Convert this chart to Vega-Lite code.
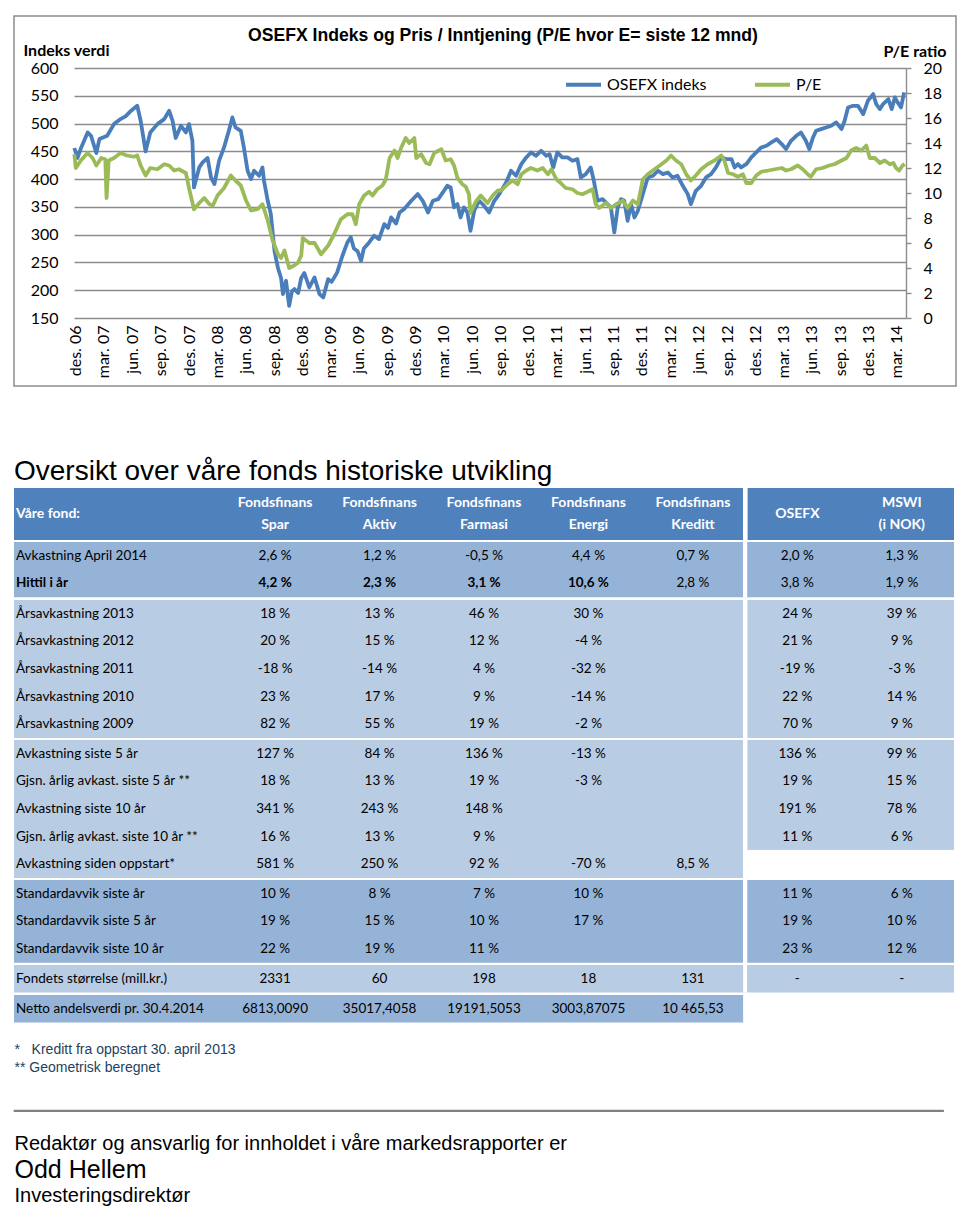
{
  "$schema": "https://vega.github.io/schema/vega-lite/v6.json",
  "background": "white",
  "padding": {"left": 13, "top": 15, "right": 0, "bottom": 0},
  "bounds": "flush",
  "spacing": 2,
  "config": {"view": {"stroke": null}, "axis": {"labelOverlap": false}},
  "datasets": {
    "osefx": [
      {"dato":"2006-11-26","verdi":456},{"dato":"2006-12-06","verdi":438},{"dato":"2006-12-17","verdi":455},{"dato":"2007-01-08","verdi":484},{"dato":"2007-01-19","verdi":478},{"dato":"2007-02-05","verdi":447},{"dato":"2007-02-15","verdi":472},{"dato":"2007-03-12","verdi":478},{"dato":"2007-04-03","verdi":499},{"dato":"2007-04-24","verdi":508},{"dato":"2007-05-10","verdi":513},{"dato":"2007-05-26","verdi":522},{"dato":"2007-06-17","verdi":532},{"dato":"2007-06-28","verdi":505},{"dato":"2007-07-14","verdi":450},{"dato":"2007-07-29","verdi":484},{"dato":"2007-08-21","verdi":499},{"dato":"2007-09-12","verdi":508},{"dato":"2007-09-28","verdi":523},{"dato":"2007-10-09","verdi":505},{"dato":"2007-10-19","verdi":474},{"dato":"2007-11-05","verdi":496},{"dato":"2007-11-21","verdi":484},{"dato":"2007-12-01","verdi":499},{"dato":"2007-12-12","verdi":469},{"dato":"2007-12-17","verdi":385},{"dato":"2008-01-03","verdi":421},{"dato":"2008-01-14","verdi":430},{"dato":"2008-01-30","verdi":438},{"dato":"2008-02-10","verdi":403},{"dato":"2008-02-21","verdi":391},{"dato":"2008-03-07","verdi":433},{"dato":"2008-03-23","verdi":457},{"dato":"2008-04-09","verdi":490},{"dato":"2008-04-19","verdi":511},{"dato":"2008-04-29","verdi":493},{"dato":"2008-05-16","verdi":487},{"dato":"2008-05-26","verdi":457},{"dato":"2008-06-07","verdi":415},{"dato":"2008-06-18","verdi":400},{"dato":"2008-06-28","verdi":415},{"dato":"2008-07-14","verdi":406},{"dato":"2008-07-25","verdi":421},{"dato":"2008-07-30","verdi":397},{"dato":"2008-08-11","verdi":361},{"dato":"2008-08-21","verdi":337},{"dato":"2008-09-02","verdi":270},{"dato":"2008-09-13","verdi":240},{"dato":"2008-09-23","verdi":222},{"dato":"2008-09-29","verdi":193},{"dato":"2008-10-09","verdi":217},{"dato":"2008-10-19","verdi":172},{"dato":"2008-10-28","verdi":198},{"dato":"2008-11-05","verdi":202},{"dato":"2008-11-17","verdi":195},{"dato":"2008-11-27","verdi":222},{"dato":"2008-12-07","verdi":231},{"dato":"2008-12-23","verdi":205},{"dato":"2009-01-09","verdi":223},{"dato":"2009-01-25","verdi":193},{"dato":"2009-02-06","verdi":187},{"dato":"2009-02-22","verdi":220},{"dato":"2009-03-05","verdi":215},{"dato":"2009-03-23","verdi":232},{"dato":"2009-04-09","verdi":262},{"dato":"2009-04-25","verdi":286},{"dato":"2009-05-06","verdi":295},{"dato":"2009-05-16","verdi":275},{"dato":"2009-05-28","verdi":270},{"dato":"2009-06-08","verdi":253},{"dato":"2009-06-17","verdi":275},{"dato":"2009-07-04","verdi":286},{"dato":"2009-07-20","verdi":298},{"dato":"2009-08-05","verdi":292},{"dato":"2009-08-22","verdi":319},{"dato":"2009-09-03","verdi":312},{"dato":"2009-09-13","verdi":331},{"dato":"2009-09-29","verdi":320},{"dato":"2009-10-10","verdi":340},{"dato":"2009-10-25","verdi":346},{"dato":"2009-11-17","verdi":361},{"dato":"2009-12-08","verdi":373},{"dato":"2009-12-24","verdi":361},{"dato":"2010-01-10","verdi":340},{"dato":"2010-01-26","verdi":361},{"dato":"2010-02-12","verdi":364},{"dato":"2010-02-27","verdi":376},{"dato":"2010-03-13","verdi":388},{"dato":"2010-03-24","verdi":385},{"dato":"2010-04-04","verdi":349},{"dato":"2010-04-15","verdi":355},{"dato":"2010-04-25","verdi":331},{"dato":"2010-05-06","verdi":349},{"dato":"2010-05-17","verdi":340},{"dato":"2010-05-27","verdi":307},{"dato":"2010-06-08","verdi":343},{"dato":"2010-06-24","verdi":361},{"dato":"2010-07-10","verdi":352},{"dato":"2010-07-26","verdi":340},{"dato":"2010-08-12","verdi":361},{"dato":"2010-08-28","verdi":373},{"dato":"2010-09-19","verdi":394},{"dato":"2010-10-05","verdi":415},{"dato":"2010-10-21","verdi":406},{"dato":"2010-11-07","verdi":427},{"dato":"2010-11-23","verdi":439},{"dato":"2010-12-08","verdi":448},{"dato":"2010-12-24","verdi":442},{"dato":"2011-01-10","verdi":451},{"dato":"2011-01-26","verdi":442},{"dato":"2011-02-06","verdi":445},{"dato":"2011-02-18","verdi":421},{"dato":"2011-03-03","verdi":448},{"dato":"2011-03-19","verdi":439},{"dato":"2011-04-05","verdi":439},{"dato":"2011-04-21","verdi":433},{"dato":"2011-05-07","verdi":436},{"dato":"2011-05-18","verdi":403},{"dato":"2011-06-03","verdi":409},{"dato":"2011-06-19","verdi":421},{"dato":"2011-06-29","verdi":397},{"dato":"2011-07-11","verdi":361},{"dato":"2011-07-27","verdi":364},{"dato":"2011-08-12","verdi":355},{"dato":"2011-08-23","verdi":349},{"dato":"2011-09-03","verdi":304},{"dato":"2011-09-14","verdi":349},{"dato":"2011-09-25","verdi":364},{"dato":"2011-10-05","verdi":361},{"dato":"2011-10-16","verdi":325},{"dato":"2011-10-27","verdi":355},{"dato":"2011-11-07","verdi":331},{"dato":"2011-11-18","verdi":343},{"dato":"2011-12-04","verdi":373},{"dato":"2011-12-20","verdi":403},{"dato":"2012-01-06","verdi":406},{"dato":"2012-01-22","verdi":415},{"dato":"2012-02-07","verdi":409},{"dato":"2012-02-23","verdi":412},{"dato":"2012-03-09","verdi":403},{"dato":"2012-03-25","verdi":406},{"dato":"2012-04-11","verdi":388},{"dato":"2012-04-27","verdi":373},{"dato":"2012-05-07","verdi":355},{"dato":"2012-05-23","verdi":379},{"dato":"2012-06-09","verdi":388},{"dato":"2012-06-25","verdi":403},{"dato":"2012-07-11","verdi":409},{"dato":"2012-07-27","verdi":421},{"dato":"2012-08-13","verdi":439},{"dato":"2012-08-29","verdi":436},{"dato":"2012-09-15","verdi":436},{"dato":"2012-09-25","verdi":421},{"dato":"2012-10-06","verdi":427},{"dato":"2012-10-16","verdi":421},{"dato":"2012-11-02","verdi":427},{"dato":"2012-11-18","verdi":439},{"dato":"2012-12-04","verdi":448},{"dato":"2012-12-20","verdi":457},{"dato":"2013-01-06","verdi":460},{"dato":"2013-01-22","verdi":466},{"dato":"2013-02-08","verdi":472},{"dato":"2013-02-24","verdi":463},{"dato":"2013-03-10","verdi":454},{"dato":"2013-03-26","verdi":469},{"dato":"2013-04-12","verdi":478},{"dato":"2013-04-27","verdi":484},{"dato":"2013-05-13","verdi":469},{"dato":"2013-05-24","verdi":454},{"dato":"2013-06-05","verdi":475},{"dato":"2013-06-15","verdi":487},{"dato":"2013-07-01","verdi":490},{"dato":"2013-07-17","verdi":493},{"dato":"2013-08-03","verdi":496},{"dato":"2013-08-19","verdi":502},{"dato":"2013-09-05","verdi":490},{"dato":"2013-09-15","verdi":505},{"dato":"2013-09-26","verdi":529},{"dato":"2013-10-12","verdi":532},{"dato":"2013-10-28","verdi":532},{"dato":"2013-11-14","verdi":517},{"dato":"2013-11-29","verdi":541},{"dato":"2013-12-16","verdi":553},{"dato":"2013-12-26","verdi":535},{"dato":"2014-01-07","verdi":526},{"dato":"2014-01-17","verdi":535},{"dato":"2014-02-03","verdi":544},{"dato":"2014-02-14","verdi":526},{"dato":"2014-02-24","verdi":547},{"dato":"2014-03-05","verdi":538},{"dato":"2014-03-16","verdi":529},{"dato":"2014-03-26","verdi":556}
    ],
    "pe": [
      {"dato":"2006-11-26","verdi":13.1},{"dato":"2006-12-01","verdi":12.0},{"dato":"2006-12-17","verdi":12.6},{"dato":"2007-01-08","verdi":13.2},{"dato":"2007-01-24","verdi":12.8},{"dato":"2007-02-05","verdi":12.2},{"dato":"2007-02-21","verdi":12.8},{"dato":"2007-03-06","verdi":12.7},{"dato":"2007-03-10","verdi":9.6},{"dato":"2007-03-17","verdi":12.6},{"dato":"2007-04-03","verdi":12.8},{"dato":"2007-04-24","verdi":13.2},{"dato":"2007-05-15","verdi":13.0},{"dato":"2007-06-06","verdi":12.9},{"dato":"2007-06-17","verdi":13.0},{"dato":"2007-06-28","verdi":12.2},{"dato":"2007-07-14","verdi":11.4},{"dato":"2007-07-29","verdi":12.0},{"dato":"2007-08-21","verdi":11.9},{"dato":"2007-09-12","verdi":12.3},{"dato":"2007-09-28","verdi":12.2},{"dato":"2007-10-14","verdi":11.8},{"dato":"2007-10-29","verdi":11.9},{"dato":"2007-11-21","verdi":11.6},{"dato":"2007-12-01","verdi":10.4},{"dato":"2007-12-17","verdi":8.7},{"dato":"2008-01-03","verdi":9.2},{"dato":"2008-01-19","verdi":9.6},{"dato":"2008-02-05","verdi":9.1},{"dato":"2008-02-16","verdi":9.0},{"dato":"2008-03-02","verdi":9.8},{"dato":"2008-03-23","verdi":10.4},{"dato":"2008-04-14","verdi":11.4},{"dato":"2008-04-29","verdi":11.0},{"dato":"2008-05-16","verdi":10.6},{"dato":"2008-06-02","verdi":9.4},{"dato":"2008-06-18","verdi":8.6},{"dato":"2008-07-09","verdi":8.7},{"dato":"2008-07-25","verdi":9.1},{"dato":"2008-08-11","verdi":7.8},{"dato":"2008-08-27","verdi":6.2},{"dato":"2008-09-13","verdi":5.1},{"dato":"2008-09-23","verdi":4.8},{"dato":"2008-10-04","verdi":5.4},{"dato":"2008-10-19","verdi":4.0},{"dato":"2008-11-04","verdi":4.2},{"dato":"2008-11-16","verdi":4.4},{"dato":"2008-11-27","verdi":5.0},{"dato":"2008-12-02","verdi":6.4},{"dato":"2008-12-23","verdi":6.0},{"dato":"2009-01-09","verdi":6.0},{"dato":"2009-01-30","verdi":5.1},{"dato":"2009-02-22","verdi":5.8},{"dato":"2009-03-13","verdi":6.7},{"dato":"2009-04-04","verdi":7.9},{"dato":"2009-04-25","verdi":8.3},{"dato":"2009-05-11","verdi":8.3},{"dato":"2009-05-22","verdi":7.5},{"dato":"2009-06-02","verdi":9.1},{"dato":"2009-06-18","verdi":9.8},{"dato":"2009-07-04","verdi":10.1},{"dato":"2009-07-15","verdi":9.8},{"dato":"2009-07-30","verdi":10.3},{"dato":"2009-08-16","verdi":10.6},{"dato":"2009-08-27","verdi":11.1},{"dato":"2009-09-08","verdi":12.8},{"dato":"2009-09-24","verdi":13.4},{"dato":"2009-10-04","verdi":12.8},{"dato":"2009-10-15","verdi":13.6},{"dato":"2009-10-30","verdi":14.4},{"dato":"2009-11-11","verdi":14.0},{"dato":"2009-11-27","verdi":14.4},{"dato":"2009-12-03","verdi":12.8},{"dato":"2009-12-19","verdi":13.1},{"dato":"2010-01-04","verdi":12.4},{"dato":"2010-01-15","verdi":12.3},{"dato":"2010-01-30","verdi":13.2},{"dato":"2010-02-22","verdi":13.5},{"dato":"2010-03-08","verdi":12.6},{"dato":"2010-03-24","verdi":12.7},{"dato":"2010-04-04","verdi":12.2},{"dato":"2010-04-15","verdi":11.2},{"dato":"2010-05-01","verdi":10.7},{"dato":"2010-05-12","verdi":10.5},{"dato":"2010-05-22","verdi":9.9},{"dato":"2010-05-27","verdi":8.4},{"dato":"2010-06-13","verdi":9.3},{"dato":"2010-06-29","verdi":9.8},{"dato":"2010-07-21","verdi":9.2},{"dato":"2010-08-07","verdi":9.8},{"dato":"2010-08-23","verdi":10.2},{"dato":"2010-09-03","verdi":10.2},{"dato":"2010-09-24","verdi":10.7},{"dato":"2010-10-10","verdi":11.0},{"dato":"2010-10-26","verdi":10.7},{"dato":"2010-11-07","verdi":11.5},{"dato":"2010-11-23","verdi":11.8},{"dato":"2010-12-08","verdi":12.0},{"dato":"2010-12-29","verdi":11.8},{"dato":"2011-01-15","verdi":12.0},{"dato":"2011-02-01","verdi":11.5},{"dato":"2011-02-12","verdi":11.9},{"dato":"2011-02-28","verdi":11.1},{"dato":"2011-03-14","verdi":10.8},{"dato":"2011-03-30","verdi":10.4},{"dato":"2011-04-21","verdi":10.3},{"dato":"2011-05-07","verdi":10.0},{"dato":"2011-05-23","verdi":9.9},{"dato":"2011-06-09","verdi":10.1},{"dato":"2011-06-25","verdi":10.3},{"dato":"2011-07-05","verdi":9.1},{"dato":"2011-07-16","verdi":8.8},{"dato":"2011-08-07","verdi":9.2},{"dato":"2011-08-23","verdi":8.8},{"dato":"2011-09-09","verdi":9.1},{"dato":"2011-09-30","verdi":9.4},{"dato":"2011-10-16","verdi":8.8},{"dato":"2011-11-02","verdi":9.4},{"dato":"2011-11-18","verdi":9.1},{"dato":"2011-12-04","verdi":11.1},{"dato":"2011-12-20","verdi":11.5},{"dato":"2012-01-11","verdi":11.9},{"dato":"2012-02-02","verdi":12.3},{"dato":"2012-02-18","verdi":12.6},{"dato":"2012-03-04","verdi":13.0},{"dato":"2012-03-20","verdi":12.6},{"dato":"2012-04-06","verdi":12.3},{"dato":"2012-04-22","verdi":11.5},{"dato":"2012-05-07","verdi":11.0},{"dato":"2012-05-23","verdi":11.4},{"dato":"2012-06-09","verdi":11.9},{"dato":"2012-06-30","verdi":12.3},{"dato":"2012-07-22","verdi":12.6},{"dato":"2012-08-13","verdi":13.0},{"dato":"2012-08-23","verdi":12.6},{"dato":"2012-09-04","verdi":11.6},{"dato":"2012-09-20","verdi":11.5},{"dato":"2012-10-06","verdi":11.3},{"dato":"2012-10-22","verdi":11.5},{"dato":"2012-11-02","verdi":10.8},{"dato":"2012-11-18","verdi":10.8},{"dato":"2012-12-04","verdi":11.4},{"dato":"2012-12-20","verdi":11.7},{"dato":"2013-01-12","verdi":11.8},{"dato":"2013-02-02","verdi":11.9},{"dato":"2013-02-24","verdi":12.0},{"dato":"2013-03-10","verdi":11.8},{"dato":"2013-03-26","verdi":11.9},{"dato":"2013-04-17","verdi":12.2},{"dato":"2013-05-03","verdi":11.9},{"dato":"2013-05-19","verdi":11.5},{"dato":"2013-05-29","verdi":11.3},{"dato":"2013-06-15","verdi":11.9},{"dato":"2013-07-06","verdi":12.0},{"dato":"2013-07-27","verdi":12.2},{"dato":"2013-08-13","verdi":12.3},{"dato":"2013-09-05","verdi":12.6},{"dato":"2013-09-21","verdi":12.8},{"dato":"2013-10-06","verdi":13.4},{"dato":"2013-10-22","verdi":13.6},{"dato":"2013-11-08","verdi":13.4},{"dato":"2013-11-24","verdi":13.8},{"dato":"2013-12-05","verdi":12.8},{"dato":"2013-12-21","verdi":12.8},{"dato":"2014-01-07","verdi":12.4},{"dato":"2014-01-22","verdi":12.6},{"dato":"2014-02-08","verdi":12.3},{"dato":"2014-02-19","verdi":12.4},{"dato":"2014-02-28","verdi":12.0},{"dato":"2014-03-10","verdi":11.8},{"dato":"2014-03-21","verdi":12.2},{"dato":"2014-03-28","verdi":12.3}
    ],
    "tabell": [
      {"gruppe":"Kort","rad":"Avkastning April 2014","Spar":"2,6 %","Aktiv":"1,2 %","Farmasi":"-0,5 %","Energi":"4,4 %","Kreditt":"0,7 %","OSEFX":"2,0 %","MSWI":"1,3 %"},
      {"gruppe":"Kort","rad":"Hittil i år","Spar":"4,2 %","Aktiv":"2,3 %","Farmasi":"3,1 %","Energi":"10,6 %","Kreditt":"2,8 %","OSEFX":"3,8 %","MSWI":"1,9 %"},
      {"gruppe":"Årlig","rad":"Årsavkastning 2013","Spar":"18 %","Aktiv":"13 %","Farmasi":"46 %","Energi":"30 %","OSEFX":"24 %","MSWI":"39 %"},
      {"gruppe":"Årlig","rad":"Årsavkastning 2012","Spar":"20 %","Aktiv":"15 %","Farmasi":"12 %","Energi":"-4 %","OSEFX":"21 %","MSWI":"9 %"},
      {"gruppe":"Årlig","rad":"Årsavkastning 2011","Spar":"-18 %","Aktiv":"-14 %","Farmasi":"4 %","Energi":"-32 %","OSEFX":"-19 %","MSWI":"-3 %"},
      {"gruppe":"Årlig","rad":"Årsavkastning 2010","Spar":"23 %","Aktiv":"17 %","Farmasi":"9 %","Energi":"-14 %","OSEFX":"22 %","MSWI":"14 %"},
      {"gruppe":"Årlig","rad":"Årsavkastning 2009","Spar":"82 %","Aktiv":"55 %","Farmasi":"19 %","Energi":"-2 %","OSEFX":"70 %","MSWI":"9 %"},
      {"gruppe":"Lang","rad":"Avkastning siste 5 år","Spar":"127 %","Aktiv":"84 %","Farmasi":"136 %","Energi":"-13 %","OSEFX":"136 %","MSWI":"99 %"},
      {"gruppe":"Lang","rad":"Gjsn. årlig avkast. siste 5 år **","Spar":"18 %","Aktiv":"13 %","Farmasi":"19 %","Energi":"-3 %","OSEFX":"19 %","MSWI":"15 %"},
      {"gruppe":"Lang","rad":"Avkastning siste 10 år","Spar":"341 %","Aktiv":"243 %","Farmasi":"148 %","OSEFX":"191 %","MSWI":"78 %"},
      {"gruppe":"Lang","rad":"Gjsn. årlig avkast. siste 10 år **","Spar":"16 %","Aktiv":"13 %","Farmasi":"9 %","OSEFX":"11 %","MSWI":"6 %"},
      {"gruppe":"Lang","rad":"Avkastning siden oppstart*","Spar":"581 %","Aktiv":"250 %","Farmasi":"92 %","Energi":"-70 %","Kreditt":"8,5 %"},
      {"gruppe":"Risiko","rad":"Standardavvik siste år","Spar":"10 %","Aktiv":"8 %","Farmasi":"7 %","Energi":"10 %","OSEFX":"11 %","MSWI":"6 %"},
      {"gruppe":"Risiko","rad":"Standardavvik siste 5 år","Spar":"19 %","Aktiv":"15 %","Farmasi":"10 %","Energi":"17 %","OSEFX":"19 %","MSWI":"10 %"},
      {"gruppe":"Risiko","rad":"Standardavvik siste 10 år","Spar":"22 %","Aktiv":"19 %","Farmasi":"11 %","OSEFX":"23 %","MSWI":"12 %"},
      {"gruppe":"Størrelse","rad":"Fondets størrelse (mill.kr.)","Spar":"2331","Aktiv":"60","Farmasi":"198","Energi":"18","Kreditt":"131","OSEFX":"-","MSWI":"-"},
      {"gruppe":"Kurs","rad":"Netto andelsverdi pr. 30.4.2014","Spar":"6813,0090","Aktiv":"35017,4058","Farmasi":"19191,5053","Energi":"3003,87075","Kreditt":"10 465,53"}
    ]
  },
  "vconcat": [
    {
      "width": 942, "height": 370,
      "view": {"stroke": "#8C8C8C", "strokeWidth": 1.5, "fill": "white"},
      "title": {"text": "OSEFX Indeks og Pris / Inntjening (P/E hvor E= siste 12 mnd)", "anchor": "middle", "frame": "group", "offset": -43, "baseline": "alphabetic", "dx": 18, "font": "Liberation Sans", "fontSize": 17.6, "fontWeight": "bold", "color": "#000"},
      "encoding": {
        "x": {"field": "dato", "type": "temporal",
          "scale": {"domain": [{"year": 2006, "month": 11, "date": 25}, {"year": 2014, "month": 4, "date": 1}], "range": [60, 892]},
          "axis": {"orient": "bottom", "offset": -68,
            "values": [{"year":2006,"month":12,"date":1},{"year":2007,"month":3,"date":1},{"year":2007,"month":6,"date":1},{"year":2007,"month":9,"date":1},{"year":2007,"month":12,"date":1},{"year":2008,"month":3,"date":1},{"year":2008,"month":6,"date":1},{"year":2008,"month":9,"date":1},{"year":2008,"month":12,"date":1},{"year":2009,"month":3,"date":1},{"year":2009,"month":6,"date":1},{"year":2009,"month":9,"date":1},{"year":2009,"month":12,"date":1},{"year":2010,"month":3,"date":1},{"year":2010,"month":6,"date":1},{"year":2010,"month":9,"date":1},{"year":2010,"month":12,"date":1},{"year":2011,"month":3,"date":1},{"year":2011,"month":6,"date":1},{"year":2011,"month":9,"date":1},{"year":2011,"month":12,"date":1},{"year":2012,"month":3,"date":1},{"year":2012,"month":6,"date":1},{"year":2012,"month":9,"date":1},{"year":2012,"month":12,"date":1},{"year":2013,"month":3,"date":1},{"year":2013,"month":6,"date":1},{"year":2013,"month":9,"date":1},{"year":2013,"month":12,"date":1},{"year":2014,"month":3,"date":1}],
            "labelExpr": "['jan.','feb.','mar.','apr.','mai','jun.','jul.','aug.','sep.','okt.','nov.','des.'][month(datum.value)] + ' ' + timeFormat(datum.value, '%y')",
            "labelAngle": 270, "labelAlign": "right", "labelBaseline": "middle", "labelPadding": 7,
            "domain": false, "ticks": false, "tickSize": 0, "grid": false, "title": null,
            "labelOverlap": false, "labelSeparation": 0, "labelFlush": false, "labelBound": false,
            "labelFont": "Lato", "labelFontSize": 16, "labelColor": "#000"}}
      },
      "layer": [
        {
          "data": {"name": "osefx"},
          "mark": {"type": "line", "strokeWidth": 3.8, "strokeJoin": "round"},
          "encoding": {
            "y": {"field": "verdi", "type": "quantitative",
              "scale": {"domain": [150, 600], "range": [302, 52], "nice": false, "zero": false},
              "axis": {"orient": "left", "offset": -60, "values": [150,200,250,300,350,400,450,500,550,600],
                "domain": false, "ticks": false, "tickSize": 0, "labelPadding": 16,
                "labelFont": "Lato", "labelFontSize": 16, "labelColor": "#000",
                "grid": true, "gridColor": "#8C8C8C", "gridWidth": 1.4,
                "title": "Indeks verdi", "titleAngle": 0, "titleAlign": "left", "titleBaseline": "alphabetic", "titleX": -51, "titleY": 39,
                "titleFont": "Lato", "titleFontSize": 16, "titleFontWeight": "bold", "titleColor": "#000"}},
            "color": {"datum": "OSEFX indeks", "type": "nominal",
              "scale": {"domain": ["OSEFX indeks", "P/E"], "range": ["#4A7EBB", "#9BBB59"]},
              "legend": {"orient": "none", "legendX": 550, "legendY": 49, "direction": "horizontal", "title": null,
                "symbolType": "stroke", "symbolStrokeWidth": 4, "symbolSize": 1225,
                "labelFont": "Lato", "labelFontSize": 16, "labelColor": "#000", "labelOffset": 4, "columnPadding": 40, "padding": 0}}
          }
        },
        {
          "data": {"name": "pe"},
          "mark": {"type": "line", "strokeWidth": 3.8, "strokeJoin": "round"},
          "encoding": {
            "y": {"field": "verdi", "type": "quantitative",
              "scale": {"domain": [0, 20], "range": [302, 52], "nice": false, "zero": false},
              "axis": {"orient": "right", "offset": -50, "values": [0,2,4,6,8,10,12,14,16,18,20],
                "domain": true, "domainColor": "#8C8C8C", "domainWidth": 1.4,
                "ticks": true, "tickColor": "#8C8C8C", "tickSize": 5, "tickWidth": 1.4, "labelPadding": 12,
                "labelFont": "Lato", "labelFontSize": 16, "labelColor": "#000", "grid": false,
                "title": "P/E ratio", "titleAngle": 0, "titleAlign": "right", "titleBaseline": "alphabetic", "titleX": 40, "titleY": 40,
                "titleFont": "Lato", "titleFontSize": 16, "titleFontWeight": "bold", "titleColor": "#000"}},
            "color": {"datum": "P/E", "type": "nominal"}
          }
        }
      ],
      "resolve": {"scale": {"y": "independent"}, "axis": {"y": "independent"}}
    },
    {
      "width": 940, "height": 98,
      "data": {"values": []},
      "mark": "rect"
    },
    {
      "width": 940, "height": 52,
      "view": {"fill": "#4F81BD", "stroke": null},
      "title": {"text": "Oversikt over våre fonds historiske utvikling", "anchor": "start", "frame": "group", "offset": -22, "baseline": "alphabetic", "font": "Liberation Sans", "fontSize": 28, "fontWeight": "normal", "color": "#000"},
      "data": {"values": [
        {"kol":"lbl","tekst":"Våre fond:"},{"kol":"Spar","tekst":"Fondsfinans\nSpar"},{"kol":"Aktiv","tekst":"Fondsfinans\nAktiv"},{"kol":"Farmasi","tekst":"Fondsfinans\nFarmasi"},{"kol":"Energi","tekst":"Fondsfinans\nEnergi"},{"kol":"Kreditt","tekst":"Fondsfinans\nKreditt"},{"kol":"OSEFX","tekst":"OSEFX"},{"kol":"MSWI","tekst":"MSWI\n(i NOK)"}
      ]},
      "layer": [
        {"transform": [{"filter": "datum.kol == 'lbl'"}],
         "mark": {"type": "text", "align": "left", "baseline": "middle", "dx": 2, "font": "Lato", "fontSize": 14, "fontWeight": "bold", "color": "white"},
         "encoding": {"x": {"field": "kol", "type": "nominal", "bandPosition": 0, "scale": {"type": "band", "domain": ["lbl","pad","Spar","Aktiv","Farmasi","Energi","Kreditt","OSEFX","MSWI"], "paddingInner": 0, "paddingOuter": 0}, "axis": null}, "text": {"field": "tekst"}}},
        {"transform": [{"filter": "datum.kol != 'lbl' && indexof(datum.tekst, '\\n') < 0"}],
         "mark": {"type": "text", "align": "center", "baseline": "middle", "font": "Lato", "fontSize": 14, "fontWeight": "bold", "color": "white"},
         "encoding": {"x": {"field": "kol", "type": "nominal", "scale": {"type": "band", "domain": ["lbl","pad","Spar","Aktiv","Farmasi","Energi","Kreditt","OSEFX","MSWI"], "paddingInner": 0, "paddingOuter": 0}, "axis": null}, "text": {"field": "tekst"}}},
        {"transform": [{"filter": "datum.kol != 'lbl' && indexof(datum.tekst, '\\n') >= 0"}],
         "mark": {"type": "text", "align": "center", "baseline": "middle", "dy": -11, "lineBreak": "\n", "lineHeight": 22, "font": "Lato", "fontSize": 14, "fontWeight": "bold", "color": "white"},
         "encoding": {"x": {"field": "kol", "type": "nominal", "scale": {"type": "band", "domain": ["lbl","pad","Spar","Aktiv","Farmasi","Energi","Kreditt","OSEFX","MSWI"], "paddingInner": 0, "paddingOuter": 0}, "axis": null}, "text": {"field": "tekst"}}},
        {"mark": {"type": "rule", "color": "white", "strokeWidth": 4},
         "encoding": {"x": {"datum": "OSEFX", "bandPosition": 0, "scale": {"type": "band", "domain": ["lbl","pad","Spar","Aktiv","Farmasi","Energi","Kreditt","OSEFX","MSWI"], "paddingInner": 0, "paddingOuter": 0}, "axis": null}}}
      ]
    },
    {
      "width": 940, "height": 55.2,
      "view": {"fill": "#95B3D7", "stroke": null},
      "data": {"name": "tabell"},
      "transform": [{"filter": "datum.gruppe == 'Kort'"}],
      "encoding": {
        "y": {"field": "rad", "type": "nominal", "scale": {"type": "band", "domain": ["Avkastning April 2014","Hittil i år"], "paddingInner": 0, "paddingOuter": 0}, "axis": null}
      },
      "layer": [
        {"transform": [{"filter": "datum.rad != 'Hittil i år'"}],
         "mark": {"type": "text", "align": "left", "baseline": "middle", "dx": 2, "font": "Lato", "fontSize": 13.5, "color": "#000"},
         "encoding": {"x": {"datum": "lbl", "bandPosition": 0, "scale": {"type": "band", "domain": ["lbl","pad","Spar","Aktiv","Farmasi","Energi","Kreditt","OSEFX","MSWI"], "paddingInner": 0, "paddingOuter": 0}, "axis": null}, "text": {"field": "rad"}}},
        {"transform": [{"filter": "datum.rad == 'Hittil i år'"}],
         "mark": {"type": "text", "align": "left", "baseline": "middle", "dx": 2, "font": "Lato", "fontSize": 13.5, "fontWeight": "bold", "color": "#000"},
         "encoding": {"x": {"datum": "lbl", "bandPosition": 0, "scale": {"type": "band", "domain": ["lbl","pad","Spar","Aktiv","Farmasi","Energi","Kreditt","OSEFX","MSWI"], "paddingInner": 0, "paddingOuter": 0}, "axis": null}, "text": {"field": "rad"}}},
        {"transform": [{"fold": ["Spar","Aktiv","Farmasi","Energi","Kreditt","OSEFX","MSWI"], "as": ["kol","verdi"]}, {"filter": "datum.verdi != null && !(datum.rad == 'Hittil i år' && indexof(['Spar','Aktiv','Farmasi','Energi'], datum.kol) >= 0)"}],
         "mark": {"type": "text", "align": "center", "baseline": "middle", "font": "Lato", "fontSize": 13.5, "color": "#000"},
         "encoding": {"x": {"field": "kol", "type": "nominal", "scale": {"type": "band", "domain": ["lbl","pad","Spar","Aktiv","Farmasi","Energi","Kreditt","OSEFX","MSWI"], "paddingInner": 0, "paddingOuter": 0}, "axis": null}, "text": {"field": "verdi"}}},
        {"transform": [{"fold": ["Spar","Aktiv","Farmasi","Energi","Kreditt","OSEFX","MSWI"], "as": ["kol","verdi"]}, {"filter": "datum.verdi != null && datum.rad == 'Hittil i år' && indexof(['Spar','Aktiv','Farmasi','Energi'], datum.kol) >= 0"}],
         "mark": {"type": "text", "align": "center", "baseline": "middle", "font": "Lato", "fontSize": 13.5, "fontWeight": "bold", "color": "#000"},
         "encoding": {"x": {"field": "kol", "type": "nominal", "scale": {"type": "band", "domain": ["lbl","pad","Spar","Aktiv","Farmasi","Energi","Kreditt","OSEFX","MSWI"], "paddingInner": 0, "paddingOuter": 0}, "axis": null}, "text": {"field": "verdi"}}},
        {"mark": {"type": "rule", "color": "white", "strokeWidth": 4},
         "encoding": {"y": null, "x": {"datum": "OSEFX", "bandPosition": 0, "scale": {"type": "band", "domain": ["lbl","pad","Spar","Aktiv","Farmasi","Energi","Kreditt","OSEFX","MSWI"], "paddingInner": 0, "paddingOuter": 0}, "axis": null}}}
      ]
    },
    {
      "width": 940, "height": 138,
      "view": {"fill": "#B8CCE4", "stroke": null},
      "data": {"name": "tabell"},
      "transform": [{"filter": "datum.gruppe == 'Årlig'"}],
      "encoding": {
        "y": {"field": "rad", "type": "nominal", "scale": {"type": "band", "domain": ["Årsavkastning 2013","Årsavkastning 2012","Årsavkastning 2011","Årsavkastning 2010","Årsavkastning 2009"], "paddingInner": 0, "paddingOuter": 0}, "axis": null}
      },
      "layer": [
        {"mark": {"type": "text", "align": "left", "baseline": "middle", "dx": 2, "font": "Lato", "fontSize": 13.5, "color": "#000"},
         "encoding": {"x": {"datum": "lbl", "bandPosition": 0, "scale": {"type": "band", "domain": ["lbl","pad","Spar","Aktiv","Farmasi","Energi","Kreditt","OSEFX","MSWI"], "paddingInner": 0, "paddingOuter": 0}, "axis": null}, "text": {"field": "rad"}}},
        {"transform": [{"fold": ["Spar","Aktiv","Farmasi","Energi","Kreditt","OSEFX","MSWI"], "as": ["kol","verdi"]}, {"filter": "datum.verdi != null"}],
         "mark": {"type": "text", "align": "center", "baseline": "middle", "font": "Lato", "fontSize": 13.5, "color": "#000"},
         "encoding": {"x": {"field": "kol", "type": "nominal", "scale": {"type": "band", "domain": ["lbl","pad","Spar","Aktiv","Farmasi","Energi","Kreditt","OSEFX","MSWI"], "paddingInner": 0, "paddingOuter": 0}, "axis": null}, "text": {"field": "verdi"}}},
        {"mark": {"type": "rule", "color": "white", "strokeWidth": 4},
         "encoding": {"y": null, "x": {"datum": "OSEFX", "bandPosition": 0, "scale": {"type": "band", "domain": ["lbl","pad","Spar","Aktiv","Farmasi","Energi","Kreditt","OSEFX","MSWI"], "paddingInner": 0, "paddingOuter": 0}, "axis": null}}}
      ]
    },
    {
      "width": 940, "height": 138,
      "view": {"fill": "#B8CCE4", "stroke": null},
      "data": {"name": "tabell"},
      "transform": [{"filter": "datum.gruppe == 'Lang'"}],
      "encoding": {
        "y": {"field": "rad", "type": "nominal", "scale": {"type": "band", "domain": ["Avkastning siste 5 år","Gjsn. årlig avkast. siste 5 år **","Avkastning siste 10 år","Gjsn. årlig avkast. siste 10 år **","Avkastning siden oppstart*"], "paddingInner": 0, "paddingOuter": 0}, "axis": null}
      },
      "layer": [
        {"transform": [{"fold": ["Spar","Aktiv","Farmasi","Energi","Kreditt","OSEFX","MSWI"], "as": ["kol","verdi"]}, {"filter": "(datum.kol == 'OSEFX' || datum.kol == 'MSWI') && datum.verdi == null"}],
         "mark": {"type": "rect", "color": "white", "stroke": "white", "strokeWidth": 1},
         "encoding": {"x": {"field": "kol", "type": "nominal", "scale": {"type": "band", "domain": ["lbl","pad","Spar","Aktiv","Farmasi","Energi","Kreditt","OSEFX","MSWI"], "paddingInner": 0, "paddingOuter": 0}, "axis": null}}},
        {"mark": {"type": "text", "align": "left", "baseline": "middle", "dx": 2, "font": "Lato", "fontSize": 13.5, "color": "#000"},
         "encoding": {"x": {"datum": "lbl", "bandPosition": 0, "scale": {"type": "band", "domain": ["lbl","pad","Spar","Aktiv","Farmasi","Energi","Kreditt","OSEFX","MSWI"], "paddingInner": 0, "paddingOuter": 0}, "axis": null}, "text": {"field": "rad"}}},
        {"transform": [{"fold": ["Spar","Aktiv","Farmasi","Energi","Kreditt","OSEFX","MSWI"], "as": ["kol","verdi"]}, {"filter": "datum.verdi != null"}],
         "mark": {"type": "text", "align": "center", "baseline": "middle", "font": "Lato", "fontSize": 13.5, "color": "#000"},
         "encoding": {"x": {"field": "kol", "type": "nominal", "scale": {"type": "band", "domain": ["lbl","pad","Spar","Aktiv","Farmasi","Energi","Kreditt","OSEFX","MSWI"], "paddingInner": 0, "paddingOuter": 0}, "axis": null}, "text": {"field": "verdi"}}},
        {"mark": {"type": "rule", "color": "white", "strokeWidth": 4},
         "encoding": {"y": null, "x": {"datum": "OSEFX", "bandPosition": 0, "scale": {"type": "band", "domain": ["lbl","pad","Spar","Aktiv","Farmasi","Energi","Kreditt","OSEFX","MSWI"], "paddingInner": 0, "paddingOuter": 0}, "axis": null}}}
      ]
    },
    {
      "width": 940, "height": 82.8,
      "view": {"fill": "#95B3D7", "stroke": null},
      "data": {"name": "tabell"},
      "transform": [{"filter": "datum.gruppe == 'Risiko'"}],
      "encoding": {
        "y": {"field": "rad", "type": "nominal", "scale": {"type": "band", "domain": ["Standardavvik siste år","Standardavvik siste 5 år","Standardavvik siste 10 år"], "paddingInner": 0, "paddingOuter": 0}, "axis": null}
      },
      "layer": [
        {"mark": {"type": "text", "align": "left", "baseline": "middle", "dx": 2, "font": "Lato", "fontSize": 13.5, "color": "#000"},
         "encoding": {"x": {"datum": "lbl", "bandPosition": 0, "scale": {"type": "band", "domain": ["lbl","pad","Spar","Aktiv","Farmasi","Energi","Kreditt","OSEFX","MSWI"], "paddingInner": 0, "paddingOuter": 0}, "axis": null}, "text": {"field": "rad"}}},
        {"transform": [{"fold": ["Spar","Aktiv","Farmasi","Energi","Kreditt","OSEFX","MSWI"], "as": ["kol","verdi"]}, {"filter": "datum.verdi != null"}],
         "mark": {"type": "text", "align": "center", "baseline": "middle", "font": "Lato", "fontSize": 13.5, "color": "#000"},
         "encoding": {"x": {"field": "kol", "type": "nominal", "scale": {"type": "band", "domain": ["lbl","pad","Spar","Aktiv","Farmasi","Energi","Kreditt","OSEFX","MSWI"], "paddingInner": 0, "paddingOuter": 0}, "axis": null}, "text": {"field": "verdi"}}},
        {"mark": {"type": "rule", "color": "white", "strokeWidth": 4},
         "encoding": {"y": null, "x": {"datum": "OSEFX", "bandPosition": 0, "scale": {"type": "band", "domain": ["lbl","pad","Spar","Aktiv","Farmasi","Energi","Kreditt","OSEFX","MSWI"], "paddingInner": 0, "paddingOuter": 0}, "axis": null}}}
      ]
    },
    {
      "width": 940, "height": 27.6,
      "view": {"fill": "#B8CCE4", "stroke": null},
      "data": {"name": "tabell"},
      "transform": [{"filter": "datum.gruppe == 'Størrelse'"}],
      "encoding": {
        "y": {"field": "rad", "type": "nominal", "scale": {"type": "band", "domain": ["Fondets størrelse (mill.kr.)"], "paddingInner": 0, "paddingOuter": 0}, "axis": null}
      },
      "layer": [
        {"mark": {"type": "text", "align": "left", "baseline": "middle", "dx": 2, "font": "Lato", "fontSize": 13.5, "color": "#000"},
         "encoding": {"x": {"datum": "lbl", "bandPosition": 0, "scale": {"type": "band", "domain": ["lbl","pad","Spar","Aktiv","Farmasi","Energi","Kreditt","OSEFX","MSWI"], "paddingInner": 0, "paddingOuter": 0}, "axis": null}, "text": {"field": "rad"}}},
        {"transform": [{"fold": ["Spar","Aktiv","Farmasi","Energi","Kreditt","OSEFX","MSWI"], "as": ["kol","verdi"]}, {"filter": "datum.verdi != null"}],
         "mark": {"type": "text", "align": "center", "baseline": "middle", "font": "Lato", "fontSize": 13.5, "color": "#000"},
         "encoding": {"x": {"field": "kol", "type": "nominal", "scale": {"type": "band", "domain": ["lbl","pad","Spar","Aktiv","Farmasi","Energi","Kreditt","OSEFX","MSWI"], "paddingInner": 0, "paddingOuter": 0}, "axis": null}, "text": {"field": "verdi"}}},
        {"mark": {"type": "rule", "color": "white", "strokeWidth": 4},
         "encoding": {"y": null, "x": {"datum": "OSEFX", "bandPosition": 0, "scale": {"type": "band", "domain": ["lbl","pad","Spar","Aktiv","Farmasi","Energi","Kreditt","OSEFX","MSWI"], "paddingInner": 0, "paddingOuter": 0}, "axis": null}}}
      ]
    },
    {
      "width": 940, "height": 27.6,
      "view": {"fill": "#95B3D7", "stroke": null},
      "data": {"name": "tabell"},
      "transform": [{"filter": "datum.gruppe == 'Kurs'"}],
      "encoding": {
        "y": {"field": "rad", "type": "nominal", "scale": {"type": "band", "domain": ["Netto andelsverdi pr. 30.4.2014"], "paddingInner": 0, "paddingOuter": 0}, "axis": null}
      },
      "layer": [
        {"transform": [{"fold": ["Spar","Aktiv","Farmasi","Energi","Kreditt","OSEFX","MSWI"], "as": ["kol","verdi"]}, {"filter": "(datum.kol == 'OSEFX' || datum.kol == 'MSWI') && datum.verdi == null"}],
         "mark": {"type": "rect", "color": "white", "stroke": "white", "strokeWidth": 1},
         "encoding": {"x": {"field": "kol", "type": "nominal", "scale": {"type": "band", "domain": ["lbl","pad","Spar","Aktiv","Farmasi","Energi","Kreditt","OSEFX","MSWI"], "paddingInner": 0, "paddingOuter": 0}, "axis": null}}},
        {"mark": {"type": "text", "align": "left", "baseline": "middle", "dx": 2, "font": "Lato", "fontSize": 13.5, "color": "#000"},
         "encoding": {"x": {"datum": "lbl", "bandPosition": 0, "scale": {"type": "band", "domain": ["lbl","pad","Spar","Aktiv","Farmasi","Energi","Kreditt","OSEFX","MSWI"], "paddingInner": 0, "paddingOuter": 0}, "axis": null}, "text": {"field": "rad"}}},
        {"transform": [{"fold": ["Spar","Aktiv","Farmasi","Energi","Kreditt","OSEFX","MSWI"], "as": ["kol","verdi"]}, {"filter": "datum.verdi != null"}],
         "mark": {"type": "text", "align": "center", "baseline": "middle", "font": "Lato", "fontSize": 13.5, "color": "#000"},
         "encoding": {"x": {"field": "kol", "type": "nominal", "scale": {"type": "band", "domain": ["lbl","pad","Spar","Aktiv","Farmasi","Energi","Kreditt","OSEFX","MSWI"], "paddingInner": 0, "paddingOuter": 0}, "axis": null}, "text": {"field": "verdi"}}},
        {"mark": {"type": "rule", "color": "white", "strokeWidth": 4},
         "encoding": {"y": null, "x": {"datum": "OSEFX", "bandPosition": 0, "scale": {"type": "band", "domain": ["lbl","pad","Spar","Aktiv","Farmasi","Energi","Kreditt","OSEFX","MSWI"], "paddingInner": 0, "paddingOuter": 0}, "axis": null}}}
      ]
    },
    {
      "width": 1, "height": 82.8,
      "data": {"values": [
        {"linje": "*\u00a0\u00a0\u00a0Kreditt fra oppstart 30. april 2013"},
        {"linje": "** Geometrisk beregnet"}
      ]},
      "mark": {"type": "text", "align": "left", "baseline": "middle", "font": "Liberation Sans", "fontSize": 14, "color": "#243F60"},
      "encoding": {
        "y": {"field": "linje", "type": "nominal", "sort": null, "scale": {"type": "point", "range": [24.8, 42.8], "padding": 0}, "axis": null},
        "text": {"field": "linje"}
      }
    },
    {
      "width": 929, "height": 1,
      "view": {"stroke": "#808080", "strokeWidth": 1.2},
      "data": {"values": []},
      "mark": "rect"
    },
    {
      "width": 1, "height": 90,
      "data": {"values": [
        {"linje": "Redaktør og ansvarlig for innholdet i våre markedsrapporter er", "rolle": "tekst"},
        {"linje": "Odd Hellem", "rolle": "navn"},
        {"linje": "Investeringsdirektør", "rolle": "tittel"}
      ]},
      "encoding": {
        "y": {"field": "linje", "type": "nominal", "scale": {"type": "point", "domain": ["Redaktør og ansvarlig for innholdet i våre markedsrapporter er", "Odd Hellem", "Investeringsdirektør"], "range": [31, 83], "padding": 0}, "axis": null},
        "text": {"field": "linje"}
      },
      "layer": [
        {"transform": [{"filter": "datum.rolle != 'navn'"}],
         "mark": {"type": "text", "align": "left", "baseline": "middle", "font": "Liberation Sans", "fontSize": 20, "color": "#000"}},
        {"transform": [{"filter": "datum.rolle == 'navn'"}],
         "mark": {"type": "text", "align": "left", "baseline": "middle", "font": "Liberation Sans", "fontSize": 25, "color": "#000"}}
      ]
    }
  ]
}
